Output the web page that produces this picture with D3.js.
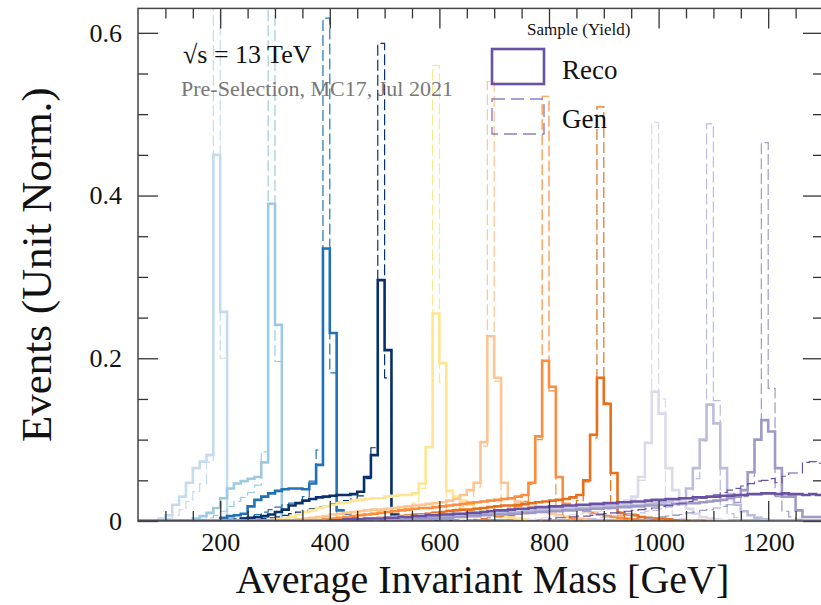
<!DOCTYPE html>
<html>
<head>
<meta charset="utf-8">
<script src="https://cdn.jsdelivr.net/npm/d3@7"></script>
<style>
  body { margin: 0; background: #fff; }
  text { font-family: "Liberation Serif", "DejaVu Serif", serif; }
</style>
</head>
<body>
<svg id="chart" width="821" height="605"></svg>
<script>
// signal mass points and their colours
var masses = [200, 300, 400, 500, 600, 700, 800, 900, 1000, 1100, 1200, 1300];
var colors = ['#c6dbef', '#9ecae1', '#2171b5', '#08306b',
              '#fde68f', '#fdc592', '#fd8d3c', '#e8701c',
              '#dadaeb', '#bcbddc', '#9e9ac8', '#6a51a3'];

// histogram binning (GeV)
var binWidth = 12.5;
var xTicks = [200, 400, 600, 800, 1000, 1200];
var yTicks = [0, 0.2, 0.4, 0.6];

// lower edge of the first stored bin, per sample
var recoStart = [87.5, 150, 200, 237.5, 300, 325, 362.5, 425, 400, 450, 500, 400];
var genStart = [87.5, 150, 200, 237.5, 362.5, 462.5, 562.5, 662.5, 762.5, 862.5, 962.5, 800];

// reco histograms (unit normalised)
var reco200 = [0.003, 0.007, 0.020, 0.030, 0.047, 0.065, 0.073, 0.081, 0.450, 0.257, 0.002];
var reco300 = [0.003, 0.006, 0.010, 0.016, 0.028, 0.040, 0.046, 0.049, 0.052, 0.054, 0.072, 0.390, 0.241, 0.002];
var reco400 = [0.004, 0.006, 0.007, 0.009, 0.018, 0.026, 0.030, 0.034, 0.037, 0.039, 0.040, 0.040, 0.039, 0.046, 0.069,
               0.335, 0.231, 0.013, 0.009, 0.004, 0.002];
var reco500 = [0.003, 0.004, 0.005, 0.006, 0.008, 0.011, 0.014, 0.019, 0.022, 0.025, 0.027, 0.029, 0.030, 0.031, 0.032,
               0.032, 0.033, 0.036, 0.054, 0.081, 0.296, 0.210, 0.008, 0.003];
var reco600 = [0.002, 0.003, 0.005, 0.008, 0.011, 0.013, 0.016, 0.018, 0.020, 0.022, 0.023, 0.025, 0.026, 0.027, 0.028,
               0.028, 0.030, 0.031, 0.032, 0.032, 0.034, 0.046, 0.091, 0.255, 0.194, 0.037, 0.030, 0.025, 0.020, 0.016,
               0.012, 0.009, 0.007, 0.005, 0.004, 0.003, 0.002, 0.001];
var reco700 = [0.001, 0.002, 0.003, 0.004, 0.005, 0.006, 0.008, 0.009, 0.010, 0.011, 0.012, 0.013, 0.014, 0.014, 0.015,
               0.016, 0.017, 0.018, 0.019, 0.020, 0.021, 0.022, 0.023, 0.025, 0.027, 0.032, 0.038, 0.047, 0.097, 0.227,
               0.176, 0.047, 0.028, 0.024, 0.020, 0.017, 0.014, 0.011, 0.009, 0.007, 0.005, 0.004, 0.003, 0.002];
var reco800 = [0.001, 0.001, 0.002, 0.003, 0.004, 0.005, 0.006, 0.007, 0.008, 0.009, 0.010, 0.011, 0.012, 0.013, 0.014,
               0.015, 0.016, 0.016, 0.017, 0.018, 0.019, 0.020, 0.021, 0.022, 0.023, 0.024, 0.025, 0.026, 0.027, 0.028,
               0.030, 0.032, 0.047, 0.104, 0.197, 0.165, 0.054, 0.021, 0.018, 0.015, 0.012, 0.010, 0.008, 0.006, 0.005,
               0.004, 0.003, 0.002, 0.001];
var reco900 = [0.001, 0.001, 0.002, 0.002, 0.003, 0.004, 0.004, 0.005, 0.006, 0.007, 0.008, 0.008, 0.009, 0.010, 0.011,
               0.012, 0.013, 0.014, 0.014, 0.015, 0.016, 0.017, 0.018, 0.019, 0.019, 0.020, 0.021, 0.022, 0.023, 0.024,
               0.025, 0.026, 0.027, 0.029, 0.032, 0.050, 0.106, 0.176, 0.144, 0.059, 0.010, 0.008, 0.007, 0.005, 0.004,
               0.003, 0.003, 0.002, 0.001, 0.001];
var reco1000 = [0.001, 0.001, 0.001, 0.002, 0.002, 0.003, 0.003, 0.004, 0.004, 0.005, 0.005, 0.006, 0.006, 0.007, 0.007,
                0.008, 0.008, 0.009, 0.009, 0.010, 0.010, 0.011, 0.011, 0.012, 0.012, 0.013, 0.013, 0.014, 0.014, 0.015,
                0.015, 0.016, 0.016, 0.017, 0.017, 0.018, 0.018, 0.019, 0.019, 0.020, 0.021, 0.022, 0.023, 0.025, 0.030,
                0.054, 0.096, 0.159, 0.132, 0.065, 0.038, 0.025, 0.015, 0.009, 0.005, 0.003, 0.002, 0.001];
var reco1100 = [0.001, 0.001, 0.001, 0.002, 0.002, 0.002, 0.003, 0.003, 0.004, 0.004, 0.005, 0.005, 0.006, 0.006, 0.007,
                0.007, 0.008, 0.008, 0.009, 0.009, 0.010, 0.010, 0.011, 0.011, 0.012, 0.012, 0.013, 0.013, 0.014, 0.014,
                0.015, 0.015, 0.016, 0.016, 0.017, 0.017, 0.018, 0.018, 0.019, 0.019, 0.020, 0.020, 0.021, 0.022, 0.023,
                0.024, 0.026, 0.028, 0.040, 0.065, 0.100, 0.143, 0.120, 0.065, 0.033, 0.020, 0.012, 0.007, 0.004, 0.002];
var reco1200 = [0.001, 0.001, 0.001, 0.002, 0.002, 0.002, 0.003, 0.003, 0.004, 0.004, 0.005, 0.005, 0.006, 0.006, 0.007,
                0.007, 0.008, 0.008, 0.009, 0.009, 0.010, 0.010, 0.011, 0.011, 0.012, 0.012, 0.013, 0.013, 0.014, 0.014,
                0.015, 0.015, 0.016, 0.016, 0.017, 0.017, 0.018, 0.018, 0.019, 0.019, 0.020, 0.020, 0.021, 0.021, 0.022,
                0.022, 0.023, 0.024, 0.025, 0.026, 0.028, 0.030, 0.038, 0.060, 0.100, 0.124, 0.110, 0.065, 0.030, 0.030,
                0.013, 0.005, 0.005, 0.005];
var reco1300 = [0.001, 0.001, 0.002, 0.002, 0.002, 0.003, 0.003, 0.003, 0.004, 0.004, 0.005, 0.005, 0.006, 0.006, 0.007,
                0.007, 0.008, 0.008, 0.009, 0.009, 0.010, 0.010, 0.011, 0.012, 0.013, 0.013, 0.014, 0.015, 0.015, 0.016,
                0.017, 0.017, 0.018, 0.018, 0.019, 0.019, 0.020, 0.020, 0.021, 0.021, 0.022, 0.022, 0.023, 0.023, 0.024,
                0.024, 0.025, 0.026, 0.026, 0.027, 0.027, 0.028, 0.028, 0.029, 0.029, 0.030, 0.030, 0.031, 0.031, 0.032,
                0.032, 0.033, 0.033, 0.034, 0.034, 0.033, 0.034, 0.033, 0.033, 0.032, 0.033, 0.032];

// gen histograms (unit normalised)
var gen200 = [0.001, 0.003, 0.007, 0.014, 0.024, 0.036, 0.046, 0.072, 0.660, 0.200, 0.001];
var gen300 = [0.001, 0.002, 0.004, 0.007, 0.012, 0.018, 0.024, 0.029, 0.035, 0.044, 0.085, 0.660, 0.196, 0.001];
var gen400 = [0.001, 0.002, 0.003, 0.004, 0.006, 0.008, 0.011, 0.014, 0.017, 0.020, 0.022, 0.023, 0.030, 0.049, 0.087,
              0.618, 0.182, 0.004, 0.002, 0.001];
var gen500 = [0.001, 0.001, 0.002, 0.003, 0.004, 0.005, 0.007, 0.009, 0.011, 0.013, 0.015, 0.017, 0.019, 0.021, 0.023,
              0.025, 0.027, 0.031, 0.052, 0.090, 0.587, 0.176, 0.002, 0.001];
var gen600 = [0.001, 0.002, 0.003, 0.004, 0.005, 0.006, 0.007, 0.008, 0.009, 0.010, 0.011, 0.012, 0.013, 0.015, 0.017,
              0.022, 0.040, 0.090, 0.560, 0.170, 0.010, 0.004, 0.002, 0.001];
var gen700 = [0.001, 0.002, 0.003, 0.004, 0.005, 0.006, 0.007, 0.008, 0.009, 0.010, 0.011, 0.012, 0.014, 0.016, 0.018,
              0.024, 0.042, 0.092, 0.540, 0.172, 0.012, 0.005, 0.002, 0.001];
var gen800 = [0.002, 0.003, 0.004, 0.005, 0.006, 0.007, 0.008, 0.009, 0.010, 0.011, 0.012, 0.013, 0.014, 0.016, 0.018,
              0.024, 0.045, 0.100, 0.522, 0.160, 0.014, 0.006, 0.003, 0.001];
var gen900 = [0.002, 0.003, 0.004, 0.005, 0.006, 0.007, 0.008, 0.009, 0.010, 0.011, 0.012, 0.013, 0.015, 0.017, 0.019,
              0.025, 0.048, 0.102, 0.509, 0.145, 0.016, 0.007, 0.003, 0.001];
var gen1000 = [0.002, 0.003, 0.004, 0.005, 0.006, 0.007, 0.008, 0.009, 0.010, 0.011, 0.012, 0.014, 0.016, 0.018, 0.020,
               0.027, 0.050, 0.096, 0.490, 0.150, 0.018, 0.008, 0.003, 0.001];
var gen1100 = [0.002, 0.003, 0.004, 0.005, 0.006, 0.007, 0.008, 0.009, 0.010, 0.012, 0.013, 0.015, 0.017, 0.019, 0.021,
               0.028, 0.052, 0.098, 0.488, 0.148, 0.020, 0.009, 0.004, 0.001];
var gen1200 = [0.002, 0.003, 0.004, 0.005, 0.006, 0.007, 0.008, 0.010, 0.011, 0.013, 0.014, 0.016, 0.018, 0.020, 0.023,
               0.030, 0.055, 0.100, 0.465, 0.163, 0.030, 0.012, 0.005, 0.002];
var gen1300 = [0.003, 0.004, 0.004, 0.005, 0.006, 0.006, 0.007, 0.008, 0.009, 0.010, 0.011, 0.012, 0.013, 0.014, 0.015,
               0.016, 0.018, 0.019, 0.021, 0.022, 0.024, 0.026, 0.028, 0.030, 0.032, 0.035, 0.038, 0.040, 0.043, 0.046,
               0.049, 0.050, 0.052, 0.047, 0.055, 0.059, 0.059, 0.072, 0.073, 0.071];

var recoValues = [reco200, reco300, reco400, reco500, reco600, reco700, reco800, reco900, reco1000, reco1100, reco1200, reco1300];
var genValues = [gen200, gen300, gen400, gen500, gen600, gen700, gen800, gen900, gen1000, gen1100, gen1200, gen1300];

var svg = d3.select('#chart');
var plotL = 138, plotR = 823, plotT = 8.4, plotB = 521;

var x = d3.scaleLinear().domain([50, 1300]).range([plotL, plotR]);
var y = d3.scaleLinear().domain([0, 0.63]).range([plotB, plotT]);

svg.append('defs').append('clipPath').attr('id', 'plot')
    .append('rect')
    .attr('x', plotL).attr('y', plotT)
    .attr('width', plotR - plotL).attr('height', plotB - plotT);

// expand a stored histogram to the full axis range (zeros outside)
function fullHist(start, vals) {
    var out = [];
    var nBins = Math.round((1300 - 50) / binWidth);
    for (var i = 0; i < nBins; i++) {
        var lo = 50 + i * binWidth;
        var j = Math.round((lo - start) / binWidth);
        out.push({ lo: lo, v: (j >= 0 && j < vals.length) ? vals[j] : 0 });
    }
    out.push({ lo: 1300, v: out[out.length - 1].v });
    return out;
}

var line = d3.line()
    .x(function (d) { return x(d.lo); })
    .y(function (d) { return y(d.v); })
    .curve(d3.curveStepAfter);

var hists = svg.append('g').attr('clip-path', 'url(#plot)');

masses.forEach(function (m, i) {
    hists.append('path')
        .attr('d', line(fullHist(recoStart[i], recoValues[i])))
        .attr('fill', 'none')
        .attr('stroke', colors[i])
        .attr('stroke-width', 2.6);
    hists.append('path')
        .attr('d', line(fullHist(genStart[i], genValues[i])))
        .attr('fill', 'none')
        .attr('stroke', colors[i])
        .attr('stroke-width', 1.2)
        .attr('stroke-dasharray', '11,4');
});

// axes: major + minor ticks on all four sides, pointing inward
var xMinor = d3.range(100, 1300, 50).filter(function (v) { return v % 200 !== 0; });
var yMinor = [0.05, 0.1, 0.15, 0.25, 0.3, 0.35, 0.45, 0.5, 0.55];

function styleAxis(g) {
    g.select('.domain').remove();
    g.selectAll('line').attr('stroke', '#333').attr('stroke-width', 1.3);
    g.selectAll('text').attr('font-family', '"Liberation Serif", serif').attr('fill', '#111');
}

svg.append('g').attr('transform', 'translate(0,' + plotB + ')')
    .call(d3.axisBottom(x).tickValues(xTicks).tickSizeInner(-20).tickSizeOuter(0).tickPadding(12)
        .tickFormat(d3.format('d')))
    .call(styleAxis)
    .selectAll('text').attr('font-size', 26).attr('dy', '0.71em');
svg.append('g').attr('transform', 'translate(0,' + plotB + ')')
    .call(d3.axisBottom(x).tickValues(xMinor).tickSize(-10).tickFormat(''))
    .call(styleAxis);
svg.append('g').attr('transform', 'translate(0,' + plotT + ')')
    .call(d3.axisTop(x).tickValues(xTicks).tickSize(-20).tickFormat(''))
    .call(styleAxis);
svg.append('g').attr('transform', 'translate(0,' + plotT + ')')
    .call(d3.axisTop(x).tickValues(xMinor).tickSize(-10).tickFormat(''))
    .call(styleAxis);

svg.append('g').attr('transform', 'translate(' + plotL + ',0)')
    .call(d3.axisLeft(y).tickValues(yTicks).tickSizeInner(-20).tickSizeOuter(0).tickPadding(16)
        .tickFormat(function (d) { return d === 0 ? '0' : d3.format('.1f')(d); }))
    .call(styleAxis)
    .selectAll('text').attr('font-size', 26);
svg.append('g').attr('transform', 'translate(' + plotL + ',0)')
    .call(d3.axisLeft(y).tickValues(yMinor).tickSize(-10).tickFormat(''))
    .call(styleAxis);
svg.append('g').attr('transform', 'translate(' + plotR + ',0)')
    .call(d3.axisRight(y).tickValues(yTicks).tickSize(-20).tickFormat(''))
    .call(styleAxis);
svg.append('g').attr('transform', 'translate(' + plotR + ',0)')
    .call(d3.axisRight(y).tickValues(yMinor).tickSize(-10).tickFormat(''))
    .call(styleAxis);

svg.append('rect')
    .attr('x', plotL).attr('y', plotT)
    .attr('width', plotR - plotL).attr('height', plotB - plotT)
    .attr('fill', 'none').attr('stroke', '#444').attr('stroke-width', 1.5);

// axis titles
svg.append('text')
    .attr('x', (plotL + plotR) / 2 + 2).attr('y', 593)
    .attr('text-anchor', 'middle').attr('font-size', 40).attr('fill', '#111')
    .text('Average Invariant Mass [GeV]');
svg.append('text')
    .attr('transform', 'translate(51,' + ((plotT + plotB) / 2) + ') rotate(-90)')
    .attr('text-anchor', 'middle').attr('font-size', 43).attr('fill', '#111')
    .text('Events (Unit Norm.)');

// annotations
svg.append('text').attr('x', 183).attr('y', 63).attr('font-size', 26).attr('fill', '#111')
    .text('\u221As = 13 TeV');
svg.append('text').attr('x', 181).attr('y', 96).attr('font-size', 22).attr('fill', '#777')
    .text('Pre-Selection, MC17, Jul 2021');

// legend
svg.append('text').attr('x', 527).attr('y', 35).attr('font-size', 17).attr('fill', '#111')
    .text('Sample (Yield)');
svg.append('rect').attr('x', 492).attr('y', 49).attr('width', 52).attr('height', 35)
    .attr('fill', 'none').attr('stroke', '#6a51a3').attr('stroke-width', 2.6);
svg.append('text').attr('x', 562).attr('y', 79).attr('font-size', 27).attr('fill', '#111').text('Reco');
svg.append('rect').attr('x', 492).attr('y', 99).attr('width', 52).attr('height', 35)
    .attr('fill', 'none').attr('stroke', '#8f80c4').attr('stroke-width', 1.4)
    .attr('stroke-dasharray', '13,6');
svg.append('text').attr('x', 562).attr('y', 128).attr('font-size', 27).attr('fill', '#111').text('Gen');
</script>
</body>
</html>
